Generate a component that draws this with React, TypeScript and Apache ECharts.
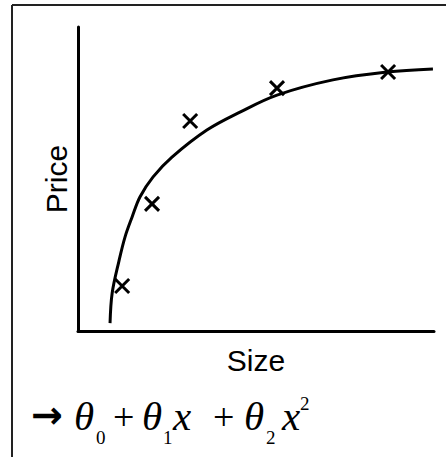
import React, { useEffect, useRef } from "react";
import * as echarts from "echarts";

// Fitted curve, in axis units (0..100)
const curveX = [9.0, 9.6, 11.5, 13.2, 15.2, 17.4, 21.1, 26.4, 36.2, 45.5, 55.9, 71.6, 86.8, 99.7];
const curveY = [2.6, 12.5, 23.0, 30.9, 37.5, 44.1, 50.7, 57.2, 66.1, 72.0, 77.6, 82.6, 85.2, 86.2];

// Training examples (crosses)
const pointX = [12.4, 20.8, 31.5, 55.9, 87.1];
const pointY = [14.8, 41.8, 69.1, 79.9, 85.2];

const xName = "Size";
const yName = "Price";

export default function App() {
  const ref = useRef<HTMLDivElement>(null);
  useEffect(() => {
    document.body.style.margin = "0";
    const chart = echarts.init(ref.current!, null, { renderer: "svg" });
    const serif = "Liberation Serif";
    const th = { fontFamily: serif, fontStyle: "italic", fontSize: 41, fill: "#000" };
    const sub = { fontFamily: serif, fontSize: 19, fill: "#000" };
    const plus = { fontFamily: serif, fontSize: 38, fill: "#000" };
    const t = (text: string, x: number, y: number, style: any) => ({
      type: "text",
      x,
      y,
      style: { text, ...style, align: "left", verticalAlign: "middle" },
    });
    chart.setOption({
      animation: false,
      backgroundColor: "#fff",
      grid: { left: 78, right: 12, top: 27, bottom: 126 },
      xAxis: {
        type: "value",
        min: 0,
        max: 100,
        name: xName,
        nameLocation: "middle",
        nameGap: 14,
        nameTextStyle: { fontFamily: "Liberation Sans", fontSize: 30, color: "#000" },
        axisLine: { show: true, lineStyle: { color: "#000", width: 3 } },
        axisTick: { show: false },
        axisLabel: { show: false },
        splitLine: { show: false },
      },
      yAxis: {
        type: "value",
        min: 0,
        max: 100,
        name: yName,
        nameLocation: "middle",
        nameGap: 7,
        nameTextStyle: { fontFamily: "Liberation Sans", fontSize: 30, color: "#000" },
        axisLine: { show: true, lineStyle: { color: "#000", width: 3 } },
        axisTick: { show: false },
        axisLabel: { show: false },
        splitLine: { show: false },
      },
      series: [
        {
          type: "line",
          data: curveX.map((x, i) => [x, curveY[i]]),
          smooth: 0.35,
          symbol: "none",
          lineStyle: { color: "#000", width: 3 },
          silent: true,
        },
        {
          type: "scatter",
          data: pointX.map((x, i) => [x, pointY[i]]),
          symbol: "path://M0,0L10,10M10,0L0,10",
          symbolSize: 14,
          itemStyle: { color: "rgba(0,0,0,0)", borderColor: "#000", borderWidth: 3, opacity: 1 },
        },
      ],
      graphic: [
        { type: "line", shape: { x1: 12, y1: 5, x2: 446, y2: 5 }, style: { stroke: "#222", lineWidth: 2 } },
        { type: "line", shape: { x1: 12, y1: 5, x2: 12, y2: 457 }, style: { stroke: "#222", lineWidth: 2 } },
        t("→", 31, 415, { fontFamily: "DejaVu Sans", fontWeight: "bold", fontSize: 38, fill: "#000" }),
        t("θ", 74, 416, th),
        t("0", 96, 437, sub),
        t("+", 113, 417, plus),
        t("θ", 142, 416, th),
        t("1", 163, 437, sub),
        t("x", 173, 416, th),
        t("+", 213, 417, plus),
        t("θ", 244, 416, th),
        t("2", 266, 437, sub),
        t("x", 282, 416, th),
        t("2", 300, 403, sub),
      ],
    });
    return () => chart.dispose();
  }, []);
  return <div ref={ref} style={{ position: "fixed", left: 0, top: 0, width: 446, height: 457 }} />;
}
